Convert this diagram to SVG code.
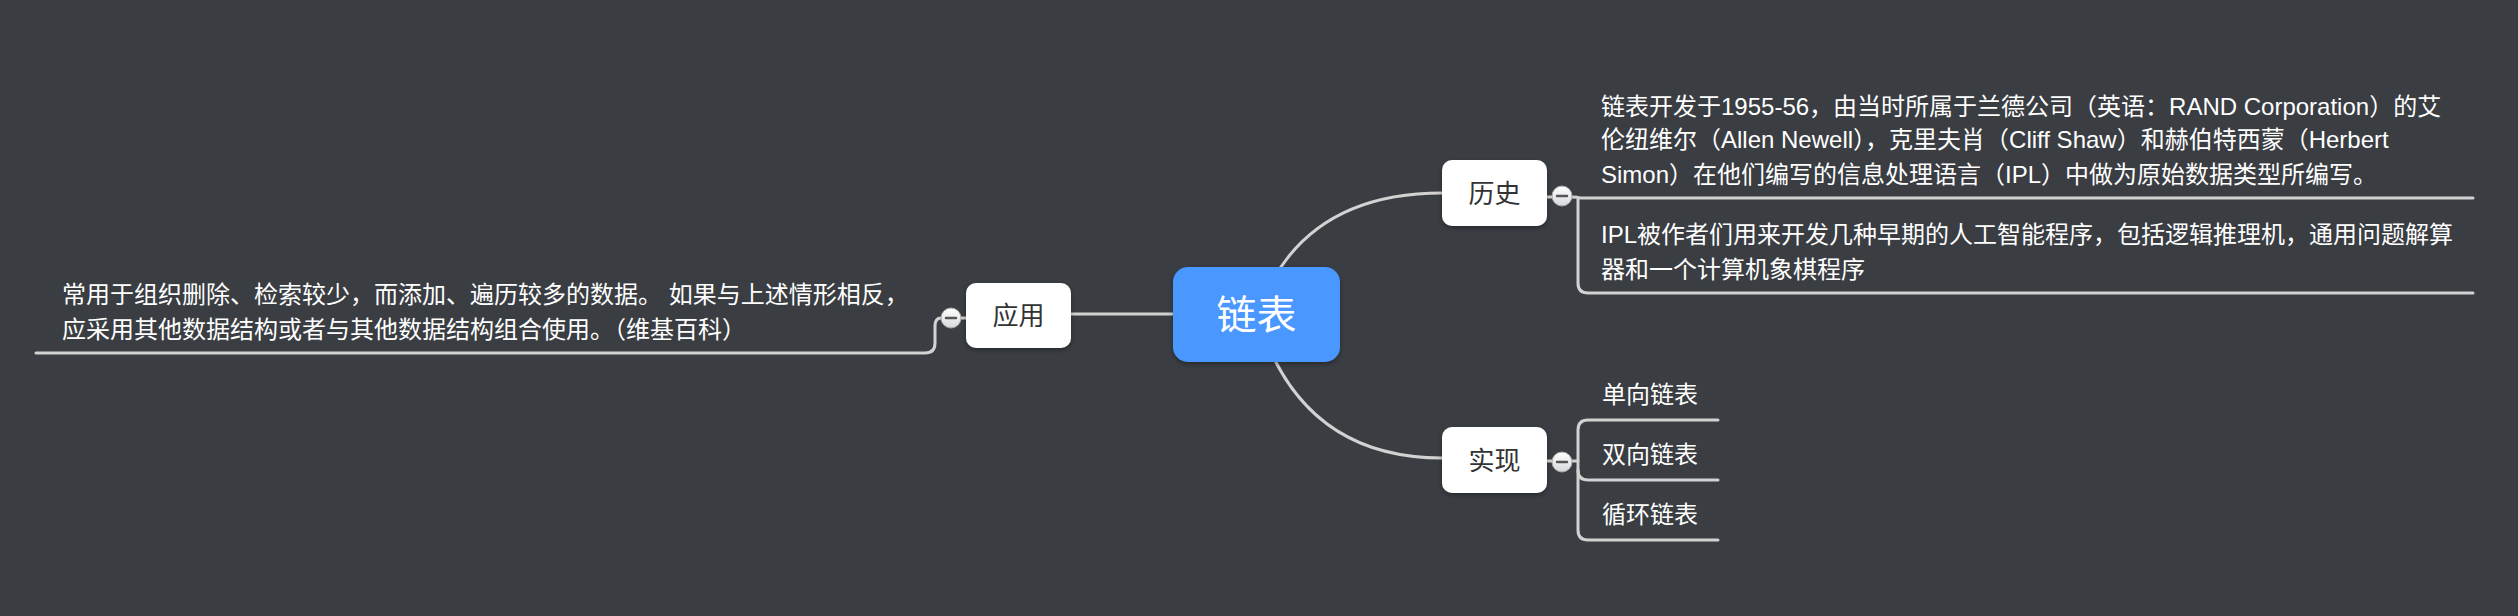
<svg xmlns="http://www.w3.org/2000/svg" width="2518" height="616" viewBox="0 0 2518 616">
<defs>
<filter id="sh" x="-20%" y="-20%" width="140%" height="150%">
<feDropShadow dx="0" dy="2" stdDeviation="2.5" flood-color="#000" flood-opacity="0.35"/>
</filter>
<linearGradient id="btn" x1="0" y1="0" x2="0" y2="1">
<stop offset="0" stop-color="#ffffff"/>
<stop offset="1" stop-color="#d6d8dc"/>
</linearGradient>
</defs>
<style>
.t{font-family:"Liberation Sans","Noto Sans CJK SC",sans-serif;}
.lbl{font-size:24px;fill:#ffffff;}
.nodeText{font-size:26px;fill:#333333;text-anchor:middle;}
.box{fill:#ffffff;filter:url(#sh);}
.ln{fill:none;stroke:#d2d2d2;stroke-width:3;stroke-linecap:round;}
.btn{fill:url(#btn);stroke:#a8a8a8;stroke-width:1;}
.minus{stroke:#555;stroke-width:2.5;stroke-linecap:round;}
</style>
<rect width="2518" height="616" fill="#3a3d42"/>
<g id="connectors">
<path class="ln" d="M1257 315 Q1300 193 1442 193"/>
<path class="ln" d="M1257 315 Q1300 458 1442 458"/>
<path class="ln" d="M1173 314 H1071"/>
<path class="ln" d="M1547 197 H1572 Q1578 197 1580 198 H2473"/>
<path class="ln" d="M1578 198 V283 Q1578 293 1588 293 H2473"/>
<path class="ln" d="M1547 461 H1578"/>
<path class="ln" d="M1718 420 H1588 Q1578 420 1578 430 V530 Q1578 540 1588 540 H1718"/>
<path class="ln" d="M1578 470 Q1578 480 1588 480 H1718"/>
<path class="ln" d="M966 318 H941 Q935 318 935 326 V343 Q935 353 925 353 H36"/>
</g>
<g id="root">
<rect x="1173" y="267" width="167" height="95" rx="15" fill="#4897ff" filter="url(#sh)"/>
<text class="t" x="1256.5" y="329" font-size="40" fill="#ffffff" text-anchor="middle">链表</text>
</g>
<g id="history">
<rect class="box" x="1442" y="160" width="105" height="66" rx="10"/>
<text class="t nodeText" x="1494.5" y="202.5">历史</text>
<circle class="btn" cx="1562" cy="196" r="10"/>
<line class="minus" x1="1557" y1="196" x2="1567" y2="196"/>
</g>
<g id="history-1">
<text class="t lbl" x="1601" y="114.5">链表开发于1955-56，由当时所属于兰德公司（英语：RAND Corporation）的艾</text>
<text class="t lbl" x="1601" y="148">伦纽维尔（Allen Newell），克里夫肖（Cliff Shaw）和赫伯特西蒙（Herbert</text>
<text class="t lbl" x="1601" y="182.5">Simon）在他们编写的信息处理语言（IPL）中做为原始数据类型所编写。</text>
</g>
<g id="history-2">
<text class="t lbl" x="1601" y="243">IPL被作者们用来开发几种早期的人工智能程序，包括逻辑推理机，通用问题解算</text>
<text class="t lbl" x="1601" y="278">器和一个计算机象棋程序</text>
</g>
<g id="impl">
<rect class="box" x="1442" y="427" width="105" height="66" rx="10"/>
<text class="t nodeText" x="1494.5" y="469.5">实现</text>
<circle class="btn" cx="1562" cy="462" r="10"/>
<line class="minus" x1="1557" y1="462" x2="1567" y2="462"/>
</g>
<g id="impl-1"><text class="t lbl" x="1602" y="403">单向链表</text></g>
<g id="impl-2"><text class="t lbl" x="1602" y="463">双向链表</text></g>
<g id="impl-3"><text class="t lbl" x="1602" y="523">循环链表</text></g>
<g id="app">
<rect class="box" x="966" y="283" width="105" height="65" rx="10"/>
<text class="t nodeText" x="1018.5" y="325">应用</text>
<circle class="btn" cx="951" cy="318" r="10"/>
<line class="minus" x1="946" y1="318" x2="956" y2="318"/>
</g>
<g id="app-1">
<text class="t lbl" x="62" y="303">常用于组织删除、检索较少，而添加、遍历较多的数据。 如果与上述情形相反，</text>
<text class="t lbl" x="62" y="338">应采用其他数据结构或者与其他数据结构组合使用。（维基百科）</text>
</g>
</svg>
